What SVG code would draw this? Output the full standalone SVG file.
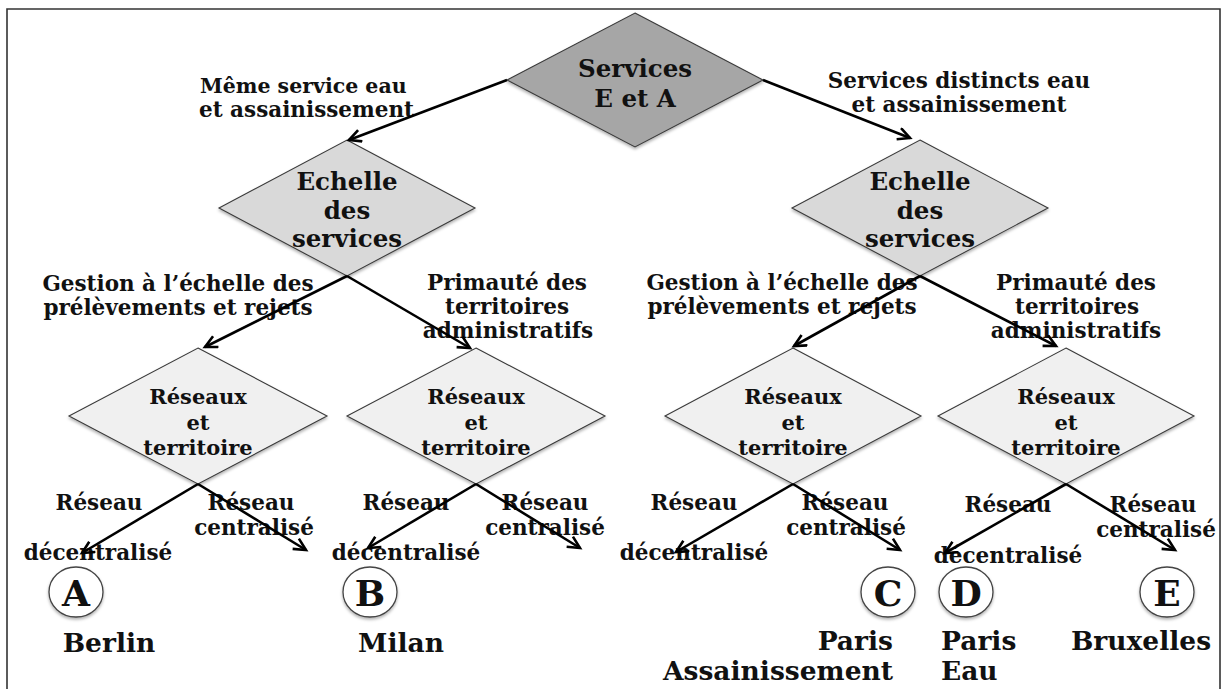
<svg xmlns="http://www.w3.org/2000/svg" width="1227" height="689" viewBox="0 0 1227 689">
<defs>
<style>
.t{font-family:"DejaVu Serif","Liberation Serif",serif;font-weight:bold;fill:#111;text-anchor:middle}
.node{font-size:24.5px}
.lab{font-size:21.5px}
.rl{font-size:21px}
.city{font-size:26.5px}
.let{font-size:36px}
.d0{fill:#a6a6a6;stroke:#3a3a3a;stroke-width:1.1}
.d1{fill:#d9d9d9;stroke:#3a3a3a;stroke-width:1.1}
.d2{fill:#f0f0f0;stroke:#3a3a3a;stroke-width:1.1}
.circ{fill:#fff;stroke:#444;stroke-width:1.3}
.arr{stroke:#000;stroke-width:2.6;fill:none;marker-end:url(#ah)}
</style>
<marker id="ah" markerUnits="userSpaceOnUse" markerWidth="16" markerHeight="16" refX="13" refY="7" orient="auto">
<path d="M1,1 L13,7 L1,13" fill="none" stroke="#000" stroke-width="2.6"/>
</marker>
<filter id="sh" x="-10%" y="-10%" width="120%" height="130%">
<feDropShadow dx="0" dy="2" stdDeviation="1.5" flood-color="#000" flood-opacity="0.3"/>
</filter>
</defs>
<rect x="0" y="0" width="1227" height="689" fill="#fff"/>
<path d="M7,700 L7,9 L1220,9 L1220,700" fill="none" stroke="#333" stroke-width="1.6"/>

<g id="n-top">
<polygon class="d0" filter="url(#sh)" points="635,13 763,80 635,147 507,80"/>
<text class="t node" x="635" y="77">Services</text>
<text class="t node" x="635" y="107">E et A</text>
</g>
<g id="n-echelle-l">
<polygon class="d1" filter="url(#sh)" points="347,140 475,208 347,276 219,208"/>
<text class="t node" x="347" y="190">Echelle</text>
<text class="t node" x="347" y="219">des</text>
<text class="t node" x="347" y="247">services</text>
</g>
<g id="n-echelle-r">
<polygon class="d1" filter="url(#sh)" points="920,140 1048,208 920,276 792,208"/>
<text class="t node" x="920" y="190">Echelle</text>
<text class="t node" x="920" y="219">des</text>
<text class="t node" x="920" y="247">services</text>
</g>
<g id="n-reseaux-1">
<polygon class="d2" filter="url(#sh)" points="198,348 327,416 198,484 69,416"/>
<text class="t rl" x="198" y="404">Réseaux</text>
<text class="t rl" x="198" y="430">et</text>
<text class="t rl" x="198" y="455">territoire</text>
</g>
<g id="n-reseaux-2">
<polygon class="d2" filter="url(#sh)" points="476,348 605,416 476,484 347,416"/>
<text class="t rl" x="476" y="404">Réseaux</text>
<text class="t rl" x="476" y="430">et</text>
<text class="t rl" x="476" y="455">territoire</text>
</g>
<g id="n-reseaux-3">
<polygon class="d2" filter="url(#sh)" points="793,348 921,416 793,484 665,416"/>
<text class="t rl" x="793" y="404">Réseaux</text>
<text class="t rl" x="793" y="430">et</text>
<text class="t rl" x="793" y="455">territoire</text>
</g>
<g id="n-reseaux-4">
<polygon class="d2" filter="url(#sh)" points="1066,348 1194,416 1066,484 938,416"/>
<text class="t rl" x="1066" y="404">Réseaux</text>
<text class="t rl" x="1066" y="430">et</text>
<text class="t rl" x="1066" y="455">territoire</text>
</g>

<g id="n-A">
<ellipse class="circ" filter="url(#sh)" cx="76" cy="592" rx="27" ry="25"/>
<text class="t let" x="76" y="606">A</text>
<text class="t city" x="109" y="652">Berlin</text>
</g>
<g id="n-B">
<ellipse class="circ" filter="url(#sh)" cx="370" cy="592" rx="27" ry="25"/>
<text class="t let" x="370" y="606">B</text>
<text class="t city" x="401" y="652">Milan</text>
</g>
<g id="n-C">
<ellipse class="circ" filter="url(#sh)" cx="888" cy="592" rx="27" ry="25"/>
<text class="t let" x="888" y="606">C</text>
<text class="t city" x="893" y="650" style="text-anchor:end">Paris</text>
<text class="t city" x="893" y="680" style="text-anchor:end">Assainissement</text>
</g>
<g id="n-D">
<ellipse class="circ" filter="url(#sh)" cx="966" cy="592" rx="27" ry="25"/>
<text class="t let" x="966" y="606">D</text>
<text class="t city" x="941" y="650" style="text-anchor:start">Paris</text>
<text class="t city" x="941" y="680" style="text-anchor:start">Eau</text>
</g>
<g id="n-E">
<ellipse class="circ" filter="url(#sh)" cx="1167" cy="592" rx="27" ry="25"/>
<text class="t let" x="1167" y="606">E</text>
<text class="t city" x="1141" y="650">Bruxelles</text>
</g>

<g id="labels">
<text class="t lab" x="200" y="93" style="text-anchor:start;font-size:20.5px">Même service eau</text>
<text class="t lab" x="199" y="117" style="text-anchor:start">et assainissement</text>
<text class="t lab" x="959" y="88">Services distincts eau</text>
<text class="t lab" x="959" y="112">et assainissement</text>
<text class="t lab" x="178" y="291">Gestion à l’échelle des</text>
<text class="t lab" x="178" y="315">prélèvements et rejets</text>
<text class="t lab" x="507" y="290">Primauté des</text>
<text class="t lab" x="507" y="314">territoires</text>
<text class="t lab" x="508" y="338">administratifs</text>
<text class="t lab" x="782" y="290">Gestion à l’échelle des</text>
<text class="t lab" x="782" y="314">prélèvements et rejets</text>
<text class="t lab" x="1076" y="290">Primauté des</text>
<text class="t lab" x="1077" y="314">territoires</text>
<text class="t lab" x="1076" y="338">administratifs</text>
<text class="t lab" x="99" y="510">Réseau</text>
<text class="t lab" x="98" y="560">décentralisé</text>
<text class="t lab" x="251" y="510">Réseau</text>
<text class="t lab" x="254" y="535">centralisé</text>
<text class="t lab" x="406" y="510">Réseau</text>
<text class="t lab" x="406" y="560">décentralisé</text>
<text class="t lab" x="545" y="510">Réseau</text>
<text class="t lab" x="545" y="535">centralisé</text>
<text class="t lab" x="694" y="510">Réseau</text>
<text class="t lab" x="694" y="560">décentralisé</text>
<text class="t lab" x="845" y="510">Réseau</text>
<text class="t lab" x="846" y="535">centralisé</text>
<text class="t lab" x="1008" y="512">Réseau</text>
<text class="t lab" x="1008" y="563">décentralisé</text>
<text class="t lab" x="1153" y="512">Réseau</text>
<text class="t lab" x="1156" y="537">centralisé</text>
</g>

<g id="connectors">
<line class="arr" x1="507" y1="80" x2="349" y2="140"/>
<line class="arr" x1="763" y1="80" x2="910" y2="138"/>
<line class="arr" x1="347" y1="276" x2="205" y2="347"/>
<line class="arr" x1="347" y1="276" x2="470" y2="348"/>
<line class="arr" x1="920" y1="276" x2="794" y2="346"/>
<line class="arr" x1="920" y1="276" x2="1056" y2="346"/>
<line class="arr" x1="198" y1="484" x2="82" y2="553"/>
<line class="arr" x1="198" y1="484" x2="306" y2="550"/>
<line class="arr" x1="476" y1="484" x2="368" y2="548"/>
<line class="arr" x1="476" y1="484" x2="580" y2="548"/>
<line class="arr" x1="793" y1="484" x2="676" y2="552"/>
<line class="arr" x1="793" y1="484" x2="900" y2="550"/>
<line class="arr" x1="1066" y1="484" x2="945" y2="553"/>
<line class="arr" x1="1066" y1="484" x2="1175" y2="550"/>
</g>
</svg>
